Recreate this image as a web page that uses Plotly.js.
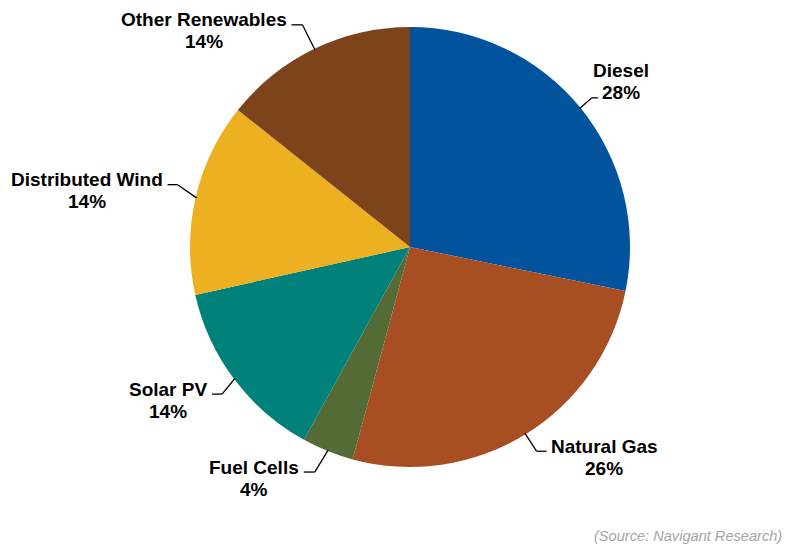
<!DOCTYPE html>
<html>
<head>
<meta charset="utf-8">
<script src="https://cdn.plot.ly/plotly-3.0.1.min.js"></script>
<style>html,body{margin:0;padding:0;background:#fff;}#chart{width:800px;height:554px;}</style>
</head>
<body>
<div id="chart"></div>
<script>
// ---- data ----
const labels = ['Diesel', 'Natural Gas', 'Fuel Cells', 'Solar PV', 'Distributed Wind', 'Other Renewables'];
const values = [28.2, 26.0, 3.8, 13.5, 14.2, 14.3];
const pctLabels = ['28%', '26%', '4%', '14%', '14%', '14%'];
const sourceNote = '(Source: Navigant Research)';

// ---- style / layout ----
const colors = ['#00539C', '#A74F23', '#546B35', '#00827B', '#ECB021', '#7D441C'];
const W = 800, H = 554;
const CX = 410, CY = 247, R = 220;
// leader elbow offsets (px) from the slice's edge midpoint
const elbowDX = [11.5, 11, -13, -12, -18, -12];
const elbowDY = [-10, 17, 21, 15, -13, -24];
const hLen = [6, 10, 11, 10, 10, 11];
const attachPct = [true, false, false, false, false, false];
const FONT_SIZE = 19, LINE_GAP = 22, TEXT_GAP = 4.5, LINE_ABOVE = 5;
const FONT_FAMILY = 'Liberation Sans, Arial, sans-serif';

const cvs = document.createElement('canvas');
const ctx = cvs.getContext('2d');
ctx.font = 'bold ' + FONT_SIZE + 'px "Liberation Sans", Arial, sans-serif';
function tw(s) { return ctx.measureText(s).width; }
const px = x => x / W;
const py = y => 1 - y / H;

const total = values.reduce((a, b) => a + b, 0);
const shapes = [];
const annotations = [];
let cum = 0;
values.forEach((v, i) => {
  const th = (cum + v / 2) / total * 2 * Math.PI;
  cum += v;
  const s = Math.sin(th), c = Math.cos(th);
  const ex = CX + (R - 1) * s, ey = CY - (R - 1) * c;
  const bx = CX + R * s + elbowDX[i], by = CY - R * c + elbowDY[i];
  const side = s > 0 ? 1 : -1;
  const hx = bx + side * hLen[i];
  const ln = { color: '#000', width: 1.3 };
  shapes.push({ type: 'line', xref: 'paper', yref: 'paper', x0: px(ex), y0: py(ey), x1: px(bx), y1: py(by), line: ln });
  shapes.push({ type: 'line', xref: 'paper', yref: 'paper', x0: px(bx), y0: py(by), x1: px(hx), y1: py(by), line: ln });
  const attachedText = attachPct[i] ? pctLabels[i] : labels[i];
  const w = tw(attachedText);
  const tcx = hx + side * (TEXT_GAP + w / 2);
  const attY = by - LINE_ABOVE;
  const nameY = attachPct[i] ? attY - LINE_GAP : attY;
  const pctY = nameY + LINE_GAP;
  const f = { family: FONT_FAMILY, size: FONT_SIZE, color: '#000' };
  annotations.push({ xref: 'paper', yref: 'paper', x: px(tcx), y: py(nameY), xanchor: 'center', yanchor: 'middle', showarrow: false, text: '<b>' + labels[i] + '</b>', font: f });
  annotations.push({ xref: 'paper', yref: 'paper', x: px(tcx), y: py(pctY), xanchor: 'center', yanchor: 'middle', showarrow: false, text: '<b>' + pctLabels[i] + '</b>', font: f });
});

annotations.push({ xref: 'paper', yref: 'paper', x: px(784), y: py(536), xanchor: 'right', yanchor: 'middle', showarrow: false,
  text: '<i>' + sourceNote + '</i>', font: { family: FONT_FAMILY, size: 14.6, color: '#A6A6A6' } });

const trace = {
  type: 'pie',
  labels: labels,
  values: values,
  sort: false,
  direction: 'clockwise',
  rotation: 0,
  textinfo: 'none',
  hoverinfo: 'label+percent',
  marker: { colors: colors, line: { width: 0 } },
  domain: { x: [px(CX - R), px(CX + R)], y: [py(CY + R), py(CY - R)] },
  showlegend: false
};

const layout = {
  width: W, height: H,
  margin: { l: 0, r: 0, t: 0, b: 0 },
  paper_bgcolor: '#fff',
  showlegend: false,
  shapes: shapes,
  annotations: annotations
};

Plotly.newPlot('chart', [trace], layout, { displayModeBar: false, staticPlot: true });
</script>
</body>
</html>
